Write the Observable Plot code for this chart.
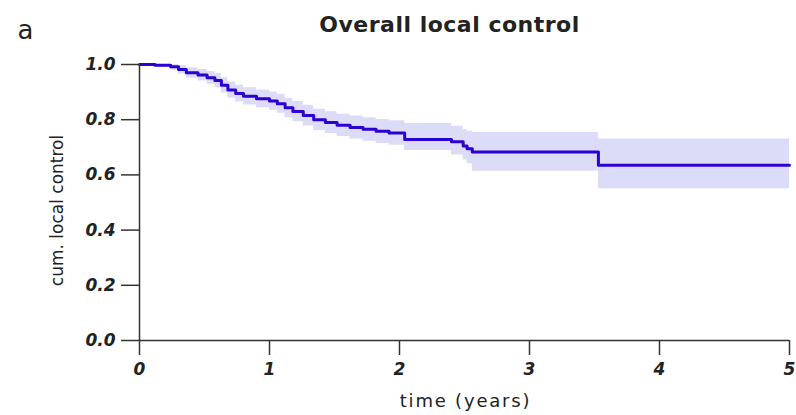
<!DOCTYPE html>
<html>
<head>
<meta charset="utf-8">
<script src="https://cdn.jsdelivr.net/npm/d3@7"></script>
<script src="https://cdn.jsdelivr.net/npm/@observablehq/plot@0.6"></script>
<style>
  html, body { margin: 0; padding: 0; background: #fff; }
  #chart svg { display: block; }
  g[aria-label="x-axis tick label"] text,
  g[aria-label="y-axis tick label"] text { font-weight: bold; font-style: italic; }
</style>
</head>
<body>
<div id="chart"></div>
<script>
// Kaplan–Meier estimate (step function) with confidence band
const times = [0.00, 0.12, 0.24, 0.30, 0.36, 0.45, 0.52, 0.58, 0.63, 0.68, 0.74, 0.80, 0.90, 1.00, 1.06, 1.12, 1.18, 1.26, 1.34, 1.43, 1.52, 1.62, 1.72, 1.82, 1.92, 2.04, 2.40, 2.49, 2.52, 2.56, 3.53, 5.00];
const surv  = [1.000, 0.997, 0.992, 0.982, 0.970, 0.962, 0.952, 0.942, 0.925, 0.908, 0.895, 0.885, 0.876, 0.868, 0.858, 0.843, 0.830, 0.815, 0.800, 0.790, 0.780, 0.772, 0.765, 0.758, 0.752, 0.728, 0.720, 0.705, 0.695, 0.683, 0.635, 0.635];
const lower = [1.000, 0.990, 0.980, 0.966, 0.950, 0.940, 0.928, 0.916, 0.897, 0.878, 0.864, 0.853, 0.843, 0.834, 0.823, 0.807, 0.793, 0.777, 0.761, 0.750, 0.739, 0.730, 0.722, 0.714, 0.707, 0.688, 0.672, 0.654, 0.640, 0.613, 0.550, 0.550];
const upper = [1.000, 1.000, 1.000, 0.996, 0.988, 0.982, 0.975, 0.967, 0.952, 0.937, 0.925, 0.916, 0.908, 0.900, 0.892, 0.878, 0.866, 0.852, 0.838, 0.829, 0.820, 0.813, 0.807, 0.801, 0.796, 0.786, 0.776, 0.764, 0.758, 0.754, 0.730, 0.730];

const xTicks = [0, 1, 2, 3, 4, 5];
const yTicks = [0, 0.2, 0.4, 0.6, 0.8, 1.0];

const title = "Overall local control";
const panelLabel = "a";
const xLabel = "time (years)";
const yLabel = "cum. local control";

const data = times.map((t, i) => ({time: t, surv: surv[i], lo: lower[i], hi: upper[i]}));

const tickFont = "DejaVu Sans, Verdana, sans-serif";

const chart = Plot.plot({
  width: 796,
  height: 415,
  marginLeft: 139,
  marginRight: 7,
  marginTop: 64,
  marginBottom: 75,
  style: { background: "#fff", color: "#222" },
  x: { domain: [0, 5] },
  y: { domain: [0, 1] },
  marks: [
    Plot.areaY(data, {x: "time", y1: "lo", y2: "hi", curve: "step-after", fill: "#dddcf8"}),
    Plot.line(data, {x: "time", y: "surv", curve: "step-after", stroke: "#2a00d4", strokeWidth: 3}),
    Plot.ruleX([0], {stroke: "#333", strokeWidth: 1.5}),
    Plot.ruleY([0], {stroke: "#333", strokeWidth: 1.5}),
    Plot.axisX({ticks: xTicks, tickFormat: d3.format("d"), tickSize: 15, tickPadding: 7, label: null,
      stroke: "#333", strokeWidth: 1.5, fontSize: 17, fontFamily: tickFont, fill: "#222"}),
    Plot.axisY({ticks: yTicks, tickFormat: d3.format(".1f"), tickSize: 18, tickPadding: 6, label: null,
      stroke: "#333", strokeWidth: 1.5, fontSize: 17, fontFamily: tickFont, fill: "#222"}),
    Plot.text([title], {frameAnchor: "top", lineAnchor: "bottom", dx: -15, dy: -33,
      fontSize: 22, fontWeight: "bold", fontFamily: "DejaVu Sans, sans-serif", fill: "#222"}),
    Plot.text([panelLabel], {frameAnchor: "top-left", textAnchor: "start", lineAnchor: "bottom", dx: -122, dy: -26,
      fontSize: 26, fontFamily: "DejaVu Sans, sans-serif", fill: "#222"}),
    Plot.text([xLabel], {frameAnchor: "bottom", lineAnchor: "bottom", dx: 1, dy: 66,
      fontSize: 18, fontFamily: "DejaVu Sans, sans-serif", fill: "#222"}),
    Plot.text([yLabel], {frameAnchor: "left", rotate: -90, textAnchor: "middle", lineAnchor: "middle", dx: -82, dy: 8,
      fontSize: 17, fontFamily: "DejaVu Sans, sans-serif", fill: "#222"})
  ]
});

document.getElementById("chart").appendChild(chart);
// letter spacing for the wide-set title and x label
chart.querySelectorAll("text").forEach(t => {
  if (t.textContent === xLabel) t.style.letterSpacing = "1.8px";
  if (t.textContent === title) t.style.letterSpacing = "0.5px";
});
</script>
</body>
</html>
